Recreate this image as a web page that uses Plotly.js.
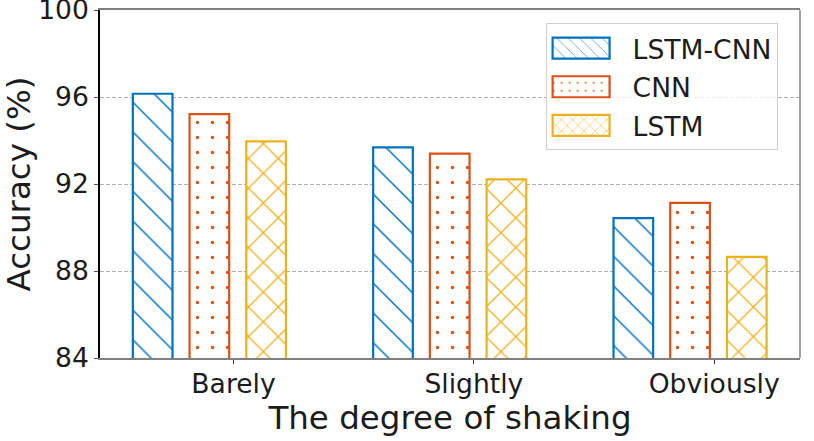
<!DOCTYPE html>
<html>
<head>
<meta charset="utf-8">
<script src="https://cdn.plot.ly/plotly-3.0.1.min.js"></script>
<style>html,body{margin:0;padding:0;background:#fff;}#chart{width:814px;height:441px;}</style>
</head>
<body>
<div id="chart"></div>
<script>
// ---- data ----
var categories = ['Barely', 'Slightly', 'Obviously'];
var seriesNames = ['LSTM-CNN', 'CNN', 'LSTM'];
var lstmCnn = [96.15, 93.68, 90.43];
var cnn = [95.21, 93.40, 91.13];
var lstm = [93.96, 92.21, 88.65];
var yTicks = [84, 88, 92, 96, 100];

// ---- styles ----
var FONT = 'DejaVu Sans, Liberation Sans, sans-serif';
var TXT = '#1c1c1c';
var colors = ['#0072BD', '#D95319', '#EDB120'];
var shapes = ['\\', '.', 'x'];
var psize = [21, 15, 21];
var psolid = [0.07, 0.04, 0.12];
var offsets = [-0.419, -0.183, 0.053];
var barWidth = 0.165;
var values = [lstmCnn, cnn, lstm];

var traces = values.map(function (v, i) {
  return {
    type: 'bar',
    name: seriesNames[i],
    x: categories,
    y: v,
    offset: offsets[i],
    width: barWidth,
    legendgroup: 'g' + i,
    marker: {
      color: '#ffffff',
      line: {color: colors[i], width: 2.2},
      pattern: {shape: shapes[i], size: psize[i], solidity: psolid[i],
                fgcolor: colors[i], bgcolor: '#ffffff', fillmode: 'replace'}
    },
    hoverinfo: 'skip'
  };
});

var layout = {
  width: 814, height: 441,
  margin: {l: 100, r: 14, t: 10, b: 83, pad: 0},
  paper_bgcolor: '#ffffff', plot_bgcolor: '#ffffff',
  font: {family: FONT, color: TXT, size: 26.6},
  showlegend: true,
  barmode: 'group',
  xaxis: {
    type: 'category',
    range: [-0.5556, 2.357],
    showline: true, linecolor: '#808080', linewidth: 1.5, mirror: true,
    ticks: 'outside', ticklen: 4, tickwidth: 1, tickcolor: '#333',
    ticklabelstandoff: -3,
    tickfont: {family: FONT, size: 26.6, color: TXT},
    showgrid: false, zeroline: false,
    title: {text: 'The degree of shaking', font: {family: FONT, size: 32.5, color: TXT}, standoff: 1}
  },
  yaxis: {
    range: [84, 100],
    tickvals: yTicks,
    ticktext: yTicks.map(String),
    ticklabeloverflow: 'allow',
    showline: true, linecolor: '#000000', linewidth: 1.5, mirror: false,
    ticks: 'outside', ticklen: 4, tickwidth: 1, tickcolor: '#555',
    tickfont: {family: FONT, size: 26.6, color: TXT},
    showgrid: true, gridcolor: '#b0b0b0', gridwidth: 1, griddash: '4px,2px',
    zeroline: false,
    title: {text: 'Accuracy (%)', font: {family: FONT, size: 32.5, color: TXT}}
  },
  shapes: [
    {type: 'line', xref: 'paper', yref: 'paper', x0: 1, x1: 1, y0: 0, y1: 1,
     line: {color: '#808080', width: 1.5}}
  ],
  legend: {
    x: 0.968, xanchor: 'right', y: 0.9615, yanchor: 'top',
    bgcolor: 'rgba(255,255,255,0.8)', bordercolor: '#d0d0d0', borderwidth: 1,
    font: {family: FONT, size: 26.6, color: TXT},
    itemwidth: 76, tracegroupgap: 1, traceorder: 'grouped',
    itemclick: false, itemdoubleclick: false
  }
};

function widenSwatches(gd) {
  var paths = gd.querySelectorAll('.legend .legendpoints path');
  paths.forEach(function (p) {
    p.setAttribute('d', 'M-37,-10.5H20V10.5H-37Z');
  });
}

var gdEl = document.getElementById('chart');
Plotly.newPlot(gdEl, traces, layout, {displayModeBar: false}).then(function (gd) {
  widenSwatches(gd);
  gd.on('plotly_afterplot', function () { widenSwatches(gd); });
  setTimeout(function () { widenSwatches(gd); }, 50);
});
</script>
</body>
</html>
